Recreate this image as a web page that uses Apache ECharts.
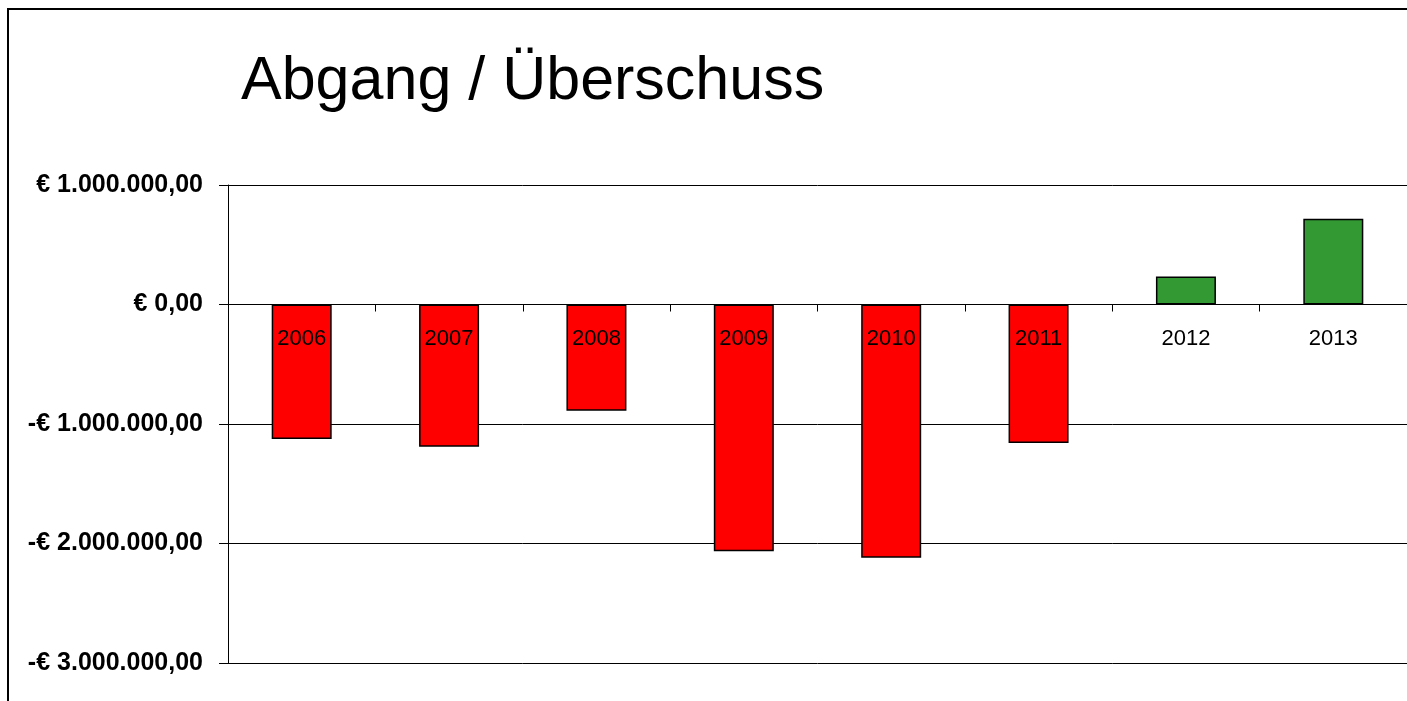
<!DOCTYPE html>
<html>
<head>
<meta charset="utf-8">
<title>Abgang / Überschuss</title>
<script src="https://cdn.jsdelivr.net/npm/echarts@6/dist/echarts.min.js"></script>
<style>
  html, body { margin: 0; padding: 0; background: #fff; }
  #chart { width: 1407px; height: 701px; }
</style>
</head>
<body>
<div id="chart"></div>
<script>
var years = ["2006", "2007", "2008", "2009", "2010", "2011", "2012", "2013"];
var saldo = [-1125000, -1190000, -890000, -2065000, -2120000, -1160000, 234000, 718000];
var yTicks = { min: -3000000, max: 1000000, step: 1000000 };

// € 1.000.000,00 style
function euro(v) {
  var neg = v < 0;
  var s = Math.abs(v).toFixed(2).split(".");
  var int = s[0].replace(/\B(?=(\d{3})+(?!\d))/g, ".");
  return (neg ? "-€ " : "€ ") + int + "," + s[1];
}

var myChart = echarts.init(document.getElementById("chart"));
var font = "Arial, 'Liberation Sans', sans-serif";

var gridTop = 185, gridBottom = 38;
var plotH = 701 - gridTop - gridBottom;
// x axis sits on the zero line: move it up from the bottom edge
var zeroOffset = -plotH * (0 - yTicks.min) / (yTicks.max - yTicks.min);

var option = {
  backgroundColor: "#fff",
  animation: false,
  title: {
    text: "Abgang / Überschuss",
    left: 236,
    top: 47,
    textStyle: { fontFamily: font, fontSize: 61, fontWeight: "normal", color: "#000" }
  },
  graphic: [
    {
      type: "rect",
      shape: { x: 8, y: 9, width: 1500, height: 800 },
      style: { fill: null, stroke: "#000", lineWidth: 2 },
      z: 100
    }
  ],
  grid: { left: 228, right: -1, top: gridTop, bottom: gridBottom },
  xAxis: {
    type: "category",
    data: years,
    position: "bottom",
    offset: zeroOffset,
    z: 10,
    axisLine: { onZero: false, lineStyle: { color: "#000", width: 1 } },
    axisTick: { show: true, length: 7, lineStyle: { color: "#000" } },
    axisLabel: { margin: 23, fontFamily: font, fontSize: 22, color: "#000" }
  },
  yAxis: {
    type: "value",
    min: yTicks.min,
    max: yTicks.max,
    interval: yTicks.step,
    axisLine: { show: true, lineStyle: { color: "#000", width: 1 } },
    axisTick: { show: true, length: 9, lineStyle: { color: "#000" } },
    axisLabel: {
      margin: 25,
      fontFamily: font,
      fontSize: 25,
      fontWeight: "bold",
      color: "#000",
      formatter: euro
    },
    splitLine: { show: true, lineStyle: { color: "#000", width: 1 } }
  },
  series: [
    {
      type: "bar",
      barWidth: 60,
      data: saldo.map(function (v) {
        return {
          value: v,
          itemStyle: {
            color: v < 0 ? "#ff0000" : "#339933",
            borderColor: "#000",
            borderWidth: 1.5
          }
        };
      })
    }
  ]
};
myChart.setOption(option);
</script>
</body>
</html>
